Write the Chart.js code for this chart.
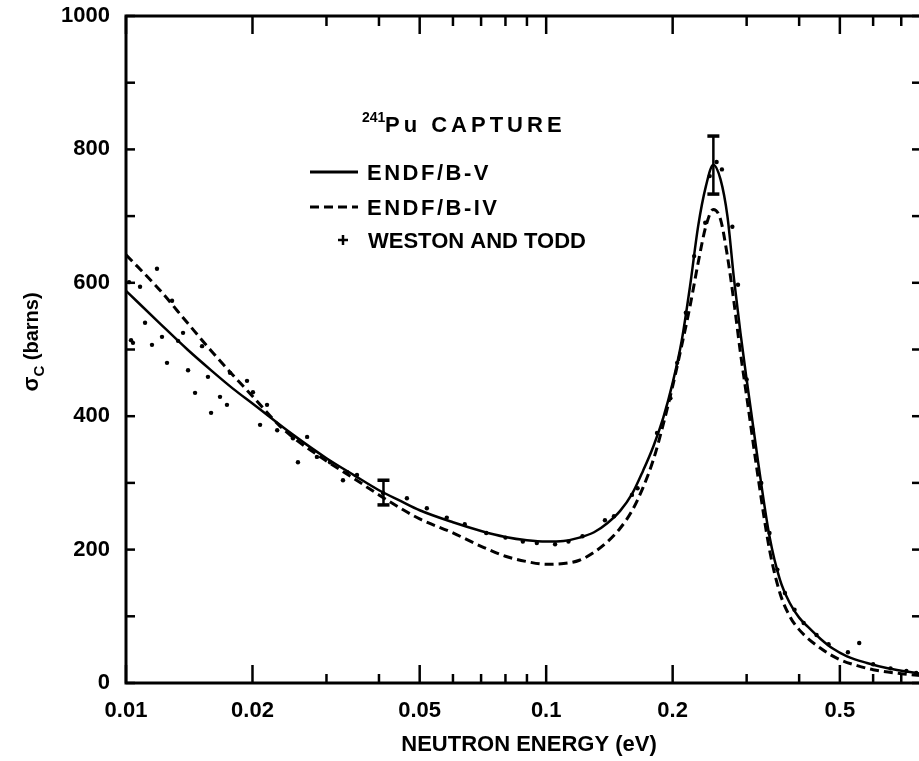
<!DOCTYPE html>
<html>
<head>
<meta charset="utf-8">
<script src="https://cdn.jsdelivr.net/npm/chart.js@4.4.1/dist/chart.umd.min.js"></script>
<style>
  html, body { margin: 0; padding: 0; background: #fff; overflow: hidden; }
  #wrap { width: 925px; height: 761px; }
</style>
</head>
<body>
<div id="wrap"><canvas id="captureChart" width="925" height="761"></canvas></div>
<script>
// ENDF/B-V evaluation (solid)
const energyV = [0.01, 0.012, 0.014, 0.016, 0.018, 0.02, 0.025, 0.03, 0.035, 0.04, 0.045, 0.05, 0.06, 0.07, 0.08, 0.09, 0.1, 0.11, 0.12, 0.13, 0.14, 0.15, 0.16, 0.17, 0.18, 0.19, 0.2, 0.21, 0.22, 0.23, 0.24, 0.25, 0.26, 0.27, 0.28, 0.29, 0.3, 0.32, 0.34, 0.36, 0.38, 0.4, 0.42, 0.45, 0.48, 0.52, 0.58, 0.65, 0.78];
const sigmaV  = [588, 540, 500, 468, 441, 419, 372, 337, 311, 289, 273, 259, 241, 228, 219, 214, 212, 213, 218, 226, 240, 258, 283, 318, 355, 398, 450, 512, 595, 685, 745, 777, 755, 700, 605, 525, 455, 328, 220, 155, 120, 98, 84, 66, 52, 40, 30, 22, 14];

// ENDF/B-IV evaluation (dashed)
const energyIV = [0.01, 0.012, 0.014, 0.016, 0.018, 0.02, 0.023, 0.025, 0.03, 0.035, 0.04, 0.045, 0.05, 0.06, 0.07, 0.08, 0.09, 0.1, 0.11, 0.12, 0.13, 0.14, 0.15, 0.16, 0.17, 0.18, 0.19, 0.2, 0.21, 0.22, 0.23, 0.24, 0.25, 0.26, 0.27, 0.28, 0.29, 0.3, 0.32, 0.34, 0.36, 0.38, 0.4, 0.45, 0.5, 0.55, 0.6, 0.7, 0.78];
const sigmaIV  = [642, 590, 540, 497, 461, 430, 388, 368, 333, 306, 282, 262, 246, 225, 205, 190, 182, 178, 179, 184, 196, 212, 232, 258, 293, 335, 388, 445, 505, 565, 630, 685, 710, 695, 640, 570, 495, 430, 305, 200, 135, 100, 80, 52, 35, 26, 20, 14, 11];

// Weston and Todd measurements
const energyWT = [0.01017, 0.01028, 0.01039, 0.0108, 0.0111, 0.01153, 0.01185, 0.01218, 0.01252, 0.01287, 0.0133, 0.01367, 0.01405, 0.0146, 0.01517, 0.01567, 0.01594, 0.01674, 0.01739, 0.01768, 0.01941, 0.02005, 0.02085, 0.02166, 0.0229, 0.02497, 0.02566, 0.02698, 0.02847, 0.03059, 0.03284, 0.03362, 0.03546, 0.0409, 0.04662, 0.052, 0.058, 0.064, 0.072, 0.08, 0.088, 0.095, 0.105, 0.113, 0.122, 0.138, 0.145, 0.16, 0.165, 0.1836, 0.1975, 0.205, 0.215, 0.225, 0.2391, 0.245, 0.2545, 0.262, 0.2774, 0.2861, 0.3, 0.31, 0.325, 0.34, 0.355, 0.37, 0.39, 0.41, 0.44, 0.47, 0.5226, 0.556, 0.6, 0.66, 0.72, 0.76];
const sigmaWT  = [601, 514, 510, 594, 540, 507, 621, 519, 480, 573, 513, 525, 469, 435, 505, 459, 405, 429, 417, 465, 453, 436, 387, 417, 379, 367, 331, 369, 339, 331, 304, 316, 312, 285, 277, 262, 248, 238, 225, 218, 212, 210, 208, 212, 220, 244, 250, 282, 292, 375, 427, 480, 555, 640, 690, 760, 781, 770, 684, 597, 455, 380, 300, 225, 170, 135, 110, 90, 72, 58, 46, 60, 28, 22, 18, 15];

// error bars on two of the measured points
const errEnergy = [0.041, 0.25];
const errLow    = [267, 733];
const errHigh   = [304, 820];

const xLabelTicks = [0.01, 0.02, 0.05, 0.1, 0.2, 0.5];
const xMinorTicks = [0.03, 0.04, 0.06, 0.07, 0.08, 0.09, 0.3, 0.4, 0.6, 0.7];
const yTicks = [0, 100, 200, 300, 400, 500, 600, 700, 800, 900, 1000];

const FONT = "'Liberation Sans', Arial, sans-serif";

function toPoints(xs, ys) {
    return xs.map((x, i) => ({ x: x, y: ys[i] }));
}

const framePlugin = {
    id: 'frame',
    afterDraw(chart) {
        const ctx = chart.ctx;
        const { left, right, top, bottom } = chart.chartArea;
        const xs = chart.scales.x;
        const ys = chart.scales.y;
        ctx.save();
        ctx.strokeStyle = '#000';
        ctx.fillStyle = '#000';
        ctx.lineCap = 'butt';

        // frame
        ctx.lineWidth = 3;
        ctx.strokeRect(left, top, right - left, bottom - top);

        // inward ticks
        ctx.lineWidth = 2.5;
        const tick = (x1, y1, x2, y2) => {
            ctx.beginPath(); ctx.moveTo(x1, y1); ctx.lineTo(x2, y2); ctx.stroke();
        };
        xLabelTicks.forEach(v => {
            const px = xs.getPixelForValue(v);
            tick(px, bottom, px, bottom - 18);
            tick(px, top, px, top + 18);
        });
        xMinorTicks.forEach(v => {
            const px = xs.getPixelForValue(v);
            tick(px, bottom, px, bottom - 9);
            tick(px, top, px, top + 10);
        });
        yTicks.forEach(v => {
            const py = ys.getPixelForValue(v);
            tick(left, py, left + 9, py);
            tick(right, py, right - 9, py);
        });

        // error bars
        errEnergy.forEach((e, i) => {
            const px = xs.getPixelForValue(e);
            const pLo = ys.getPixelForValue(errLow[i]);
            const pHi = ys.getPixelForValue(errHigh[i]);
            ctx.lineWidth = 2.5;
            tick(px, pLo, px, pHi);
            ctx.lineWidth = 3.5;
            tick(px - 6, pLo, px + 6, pLo);
            tick(px - 6, pHi, px + 6, pHi);
        });

        // legend block inside the plot
        const lx = left + 184;
        ctx.textBaseline = 'alphabetic';
        ctx.textAlign = 'left';
        ctx.font = 'bold 14px ' + FONT;
        ctx.fillText('241', left + 236, top + 106);
        ctx.font = 'bold 22px ' + FONT;
        ctx.letterSpacing = '4px';
        ctx.fillText('Pu CAPTURE', left + 259, top + 116);

        ctx.letterSpacing = '2.5px';
        ctx.lineWidth = 3;
        tick(lx, top + 156, lx + 48, top + 156);
        ctx.fillText('ENDF/B-V', left + 241, top + 164);

        ctx.setLineDash([9, 5]);
        tick(lx, top + 191, lx + 48, top + 191);
        ctx.setLineDash([]);
        ctx.fillText('ENDF/B-IV', left + 241, top + 199);

        ctx.letterSpacing = '0px';
        ctx.lineWidth = 2.5;
        tick(left + 212, top + 224, left + 222, top + 224);
        tick(left + 217, top + 219, left + 217, top + 229);
        ctx.fillText('WESTON AND TODD', left + 242, top + 232);

        // axis titles
        ctx.font = 'bold 22px ' + FONT;
        ctx.textAlign = 'center';
        ctx.fillText('NEUTRON ENERGY (eV)', 529, 751);

        ctx.translate(38, 342);
        ctx.rotate(-Math.PI / 2);
        ctx.textAlign = 'left';
        const t1 = 'σ', t2 = 'C', t3 = ' (barns)';
        ctx.font = 'bold 22px ' + FONT;
        const w1 = ctx.measureText(t1).width;
        ctx.font = 'bold 20px ' + FONT;
        const w3 = ctx.measureText(t3).width;
        ctx.font = 'bold 15px ' + FONT;
        const w2 = ctx.measureText(t2).width;
        let cx = -(w1 + w2 + w3) / 2;
        ctx.font = 'bold 22px ' + FONT;
        ctx.fillText(t1, cx, 0);
        cx += w1;
        ctx.font = 'bold 15px ' + FONT;
        ctx.fillText(t2, cx, 6);
        cx += w2;
        ctx.font = 'bold 20px ' + FONT;
        ctx.fillText(t3, cx, 0);
        ctx.restore();
    }
};

new Chart(document.getElementById('captureChart'), {
    type: 'scatter',
    data: {
        datasets: [
            {
                label: 'ENDF/B-V',
                data: toPoints(energyV, sigmaV),
                showLine: true,
                borderColor: '#000',
                borderWidth: 2.5,
                pointRadius: 0,
                cubicInterpolationMode: 'monotone'
            },
            {
                label: 'ENDF/B-IV',
                data: toPoints(energyIV, sigmaIV),
                showLine: true,
                borderColor: '#000',
                borderWidth: 3,
                borderDash: [9, 5],
                pointRadius: 0,
                cubicInterpolationMode: 'monotone'
            },
            {
                label: 'WESTON AND TODD',
                data: toPoints(energyWT, sigmaWT),
                showLine: false,
                pointRadius: 2.2,
                pointBackgroundColor: '#000',
                pointBorderWidth: 0
            }
        ]
    },
    options: {
        responsive: false,
        animation: false,
        devicePixelRatio: 1,
        layout: { padding: { left: 0, top: 16, right: 4, bottom: 0 } },
        plugins: {
            legend: { display: false },
            tooltip: { enabled: false }
        },
        scales: {
            x: {
                type: 'logarithmic',
                min: 0.01,
                max: 0.78,
                grid: { display: false, drawTicks: false },
                border: { display: false },
                afterBuildTicks: s => { s.ticks = xLabelTicks.map(v => ({ value: v })); },
                afterFit: s => { s.height = 78; s.paddingLeft = 0; s.paddingRight = 0; },
                ticks: {
                    autoSkip: false,
                    maxRotation: 0,
                    padding: 15,
                    color: '#000',
                    font: { family: FONT, size: 22, weight: 'bold' },
                    callback: v => String(v)
                }
            },
            y: {
                min: 0,
                max: 1000,
                grid: { display: false, drawTicks: false },
                border: { display: false },
                afterFit: s => { s.width = 126; s.paddingTop = 0; s.paddingBottom = 0; },
                ticks: {
                    stepSize: 200,
                    padding: 16,
                    color: '#000',
                    font: { family: FONT, size: 22, weight: 'bold' },
                    callback: v => String(v)
                }
            }
        }
    },
    plugins: [framePlugin]
});
</script>
</body>
</html>
